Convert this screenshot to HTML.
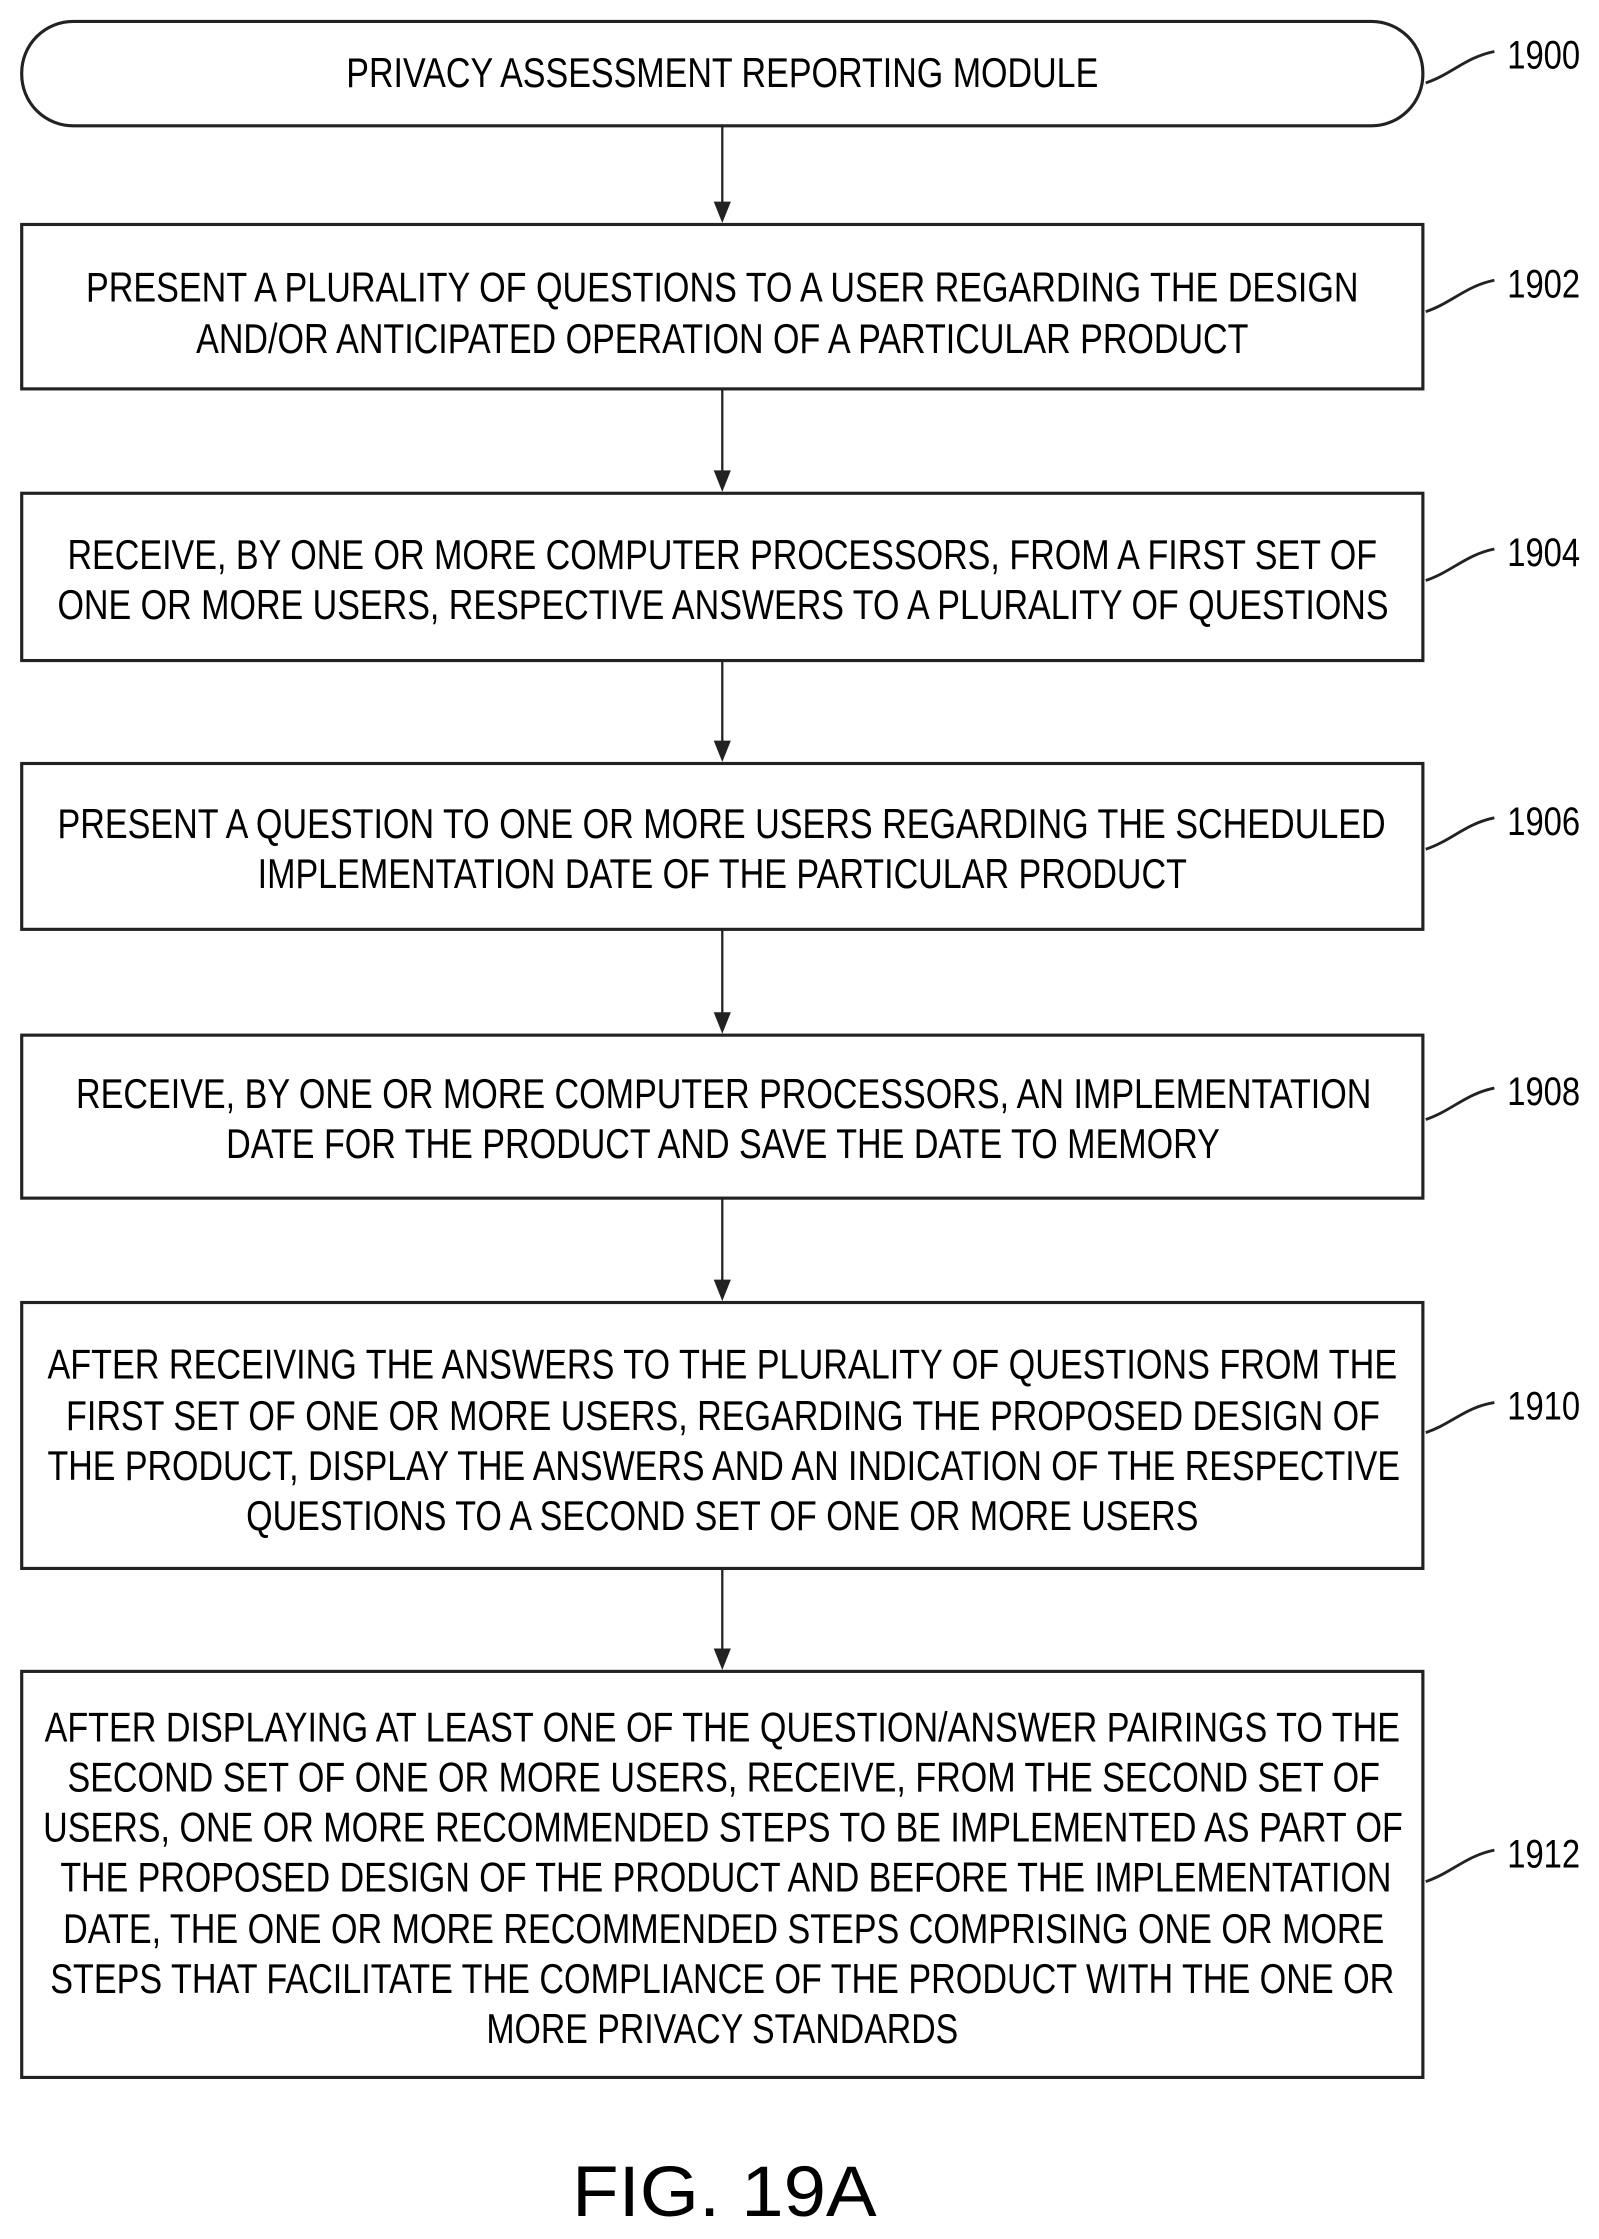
<!DOCTYPE html>
<html><head><meta charset="utf-8"><style>html,body{margin:0;padding:0;background:#fff}svg{display:block}</style></head>
<body>
<svg width="1599" height="2239" viewBox="0 0 1118 1566" xmlns="http://www.w3.org/2000/svg" font-family="Liberation Sans, sans-serif" fill="#000">
<g fill="none" stroke="#222" stroke-width="2.2">
<rect x="15" y="15" width="980" height="73" rx="36" ry="36"/>
<rect x="15" y="157" width="980" height="115"/>
<rect x="15" y="345" width="980" height="117"/>
<rect x="15" y="534" width="980" height="116"/>
<rect x="15" y="724" width="980" height="114"/>
<rect x="15" y="911" width="980" height="186"/>
<rect x="15" y="1169" width="980" height="284"/>
<g stroke-width="1.6">
<line x1="505" y1="88" x2="505" y2="145"/>
<line x1="505" y1="272" x2="505" y2="333"/>
<line x1="505" y1="462" x2="505" y2="522"/>
<line x1="505" y1="650" x2="505" y2="712"/>
<line x1="505" y1="838" x2="505" y2="899"/>
<line x1="505" y1="1097" x2="505" y2="1157"/>
</g>
<g stroke-width="2">
<path d="M997,58 C1015,52 1025,40 1045,36"/>
<path d="M997,218 C1015,212 1025,200 1045,196"/>
<path d="M997,406 C1015,400 1025,388 1045,384"/>
<path d="M997,594 C1015,588 1025,576 1045,572"/>
<path d="M997,783 C1015,777 1025,765 1045,761"/>
<path d="M997,1002 C1015,996 1025,984 1045,981"/>
<path d="M997,1316 C1015,1310 1025,1298 1045,1294"/>
</g>
</g>
<g fill="#222">
<polygon points="499,141 511,141 505,156"/>
<polygon points="499,329 511,329 505,344"/>
<polygon points="499,518 511,518 505,533"/>
<polygon points="499,708 511,708 505,723"/>
<polygon points="499,895 511,895 505,910"/>
<polygon points="499,1153 511,1153 505,1168"/>
</g>
<g font-size="28">
<text x="1054" y="48" textLength="51" lengthAdjust="spacingAndGlyphs">1900</text>
<text x="1054" y="208" textLength="51" lengthAdjust="spacingAndGlyphs">1902</text>
<text x="1054" y="396" textLength="51" lengthAdjust="spacingAndGlyphs">1904</text>
<text x="1054" y="584" textLength="51" lengthAdjust="spacingAndGlyphs">1906</text>
<text x="1054" y="773" textLength="51" lengthAdjust="spacingAndGlyphs">1908</text>
<text x="1054" y="993" textLength="51" lengthAdjust="spacingAndGlyphs">1910</text>
<text x="1054" y="1306" textLength="51" lengthAdjust="spacingAndGlyphs">1912</text>
</g>
<g font-size="29">
<text x="242" y="61" textLength="526" lengthAdjust="spacingAndGlyphs">PRIVACY ASSESSMENT REPORTING MODULE</text>
<text x="60" y="211" textLength="890" lengthAdjust="spacingAndGlyphs">PRESENT A PLURALITY OF QUESTIONS TO A USER REGARDING THE DESIGN</text>
<text x="137" y="247" textLength="736" lengthAdjust="spacingAndGlyphs">AND/OR ANTICIPATED OPERATION OF A PARTICULAR PRODUCT</text>
<text x="47" y="398" textLength="916" lengthAdjust="spacingAndGlyphs">RECEIVE, BY ONE OR MORE COMPUTER PROCESSORS, FROM A FIRST SET OF</text>
<text x="40" y="433" textLength="931" lengthAdjust="spacingAndGlyphs">ONE OR MORE USERS, RESPECTIVE ANSWERS TO A PLURALITY OF QUESTIONS</text>
<text x="40" y="586" textLength="929" lengthAdjust="spacingAndGlyphs">PRESENT A QUESTION TO ONE OR MORE USERS REGARDING THE SCHEDULED</text>
<text x="180" y="621" textLength="650" lengthAdjust="spacingAndGlyphs">IMPLEMENTATION DATE OF THE PARTICULAR PRODUCT</text>
<text x="53" y="775" textLength="906" lengthAdjust="spacingAndGlyphs">RECEIVE, BY ONE OR MORE COMPUTER PROCESSORS, AN IMPLEMENTATION</text>
<text x="158" y="810" textLength="695" lengthAdjust="spacingAndGlyphs">DATE FOR THE PRODUCT AND SAVE THE DATE TO MEMORY</text>
<text x="33" y="964" textLength="944" lengthAdjust="spacingAndGlyphs">AFTER RECEIVING THE ANSWERS TO THE PLURALITY OF QUESTIONS FROM THE</text>
<text x="46" y="1000" textLength="919" lengthAdjust="spacingAndGlyphs">FIRST SET OF ONE OR MORE USERS, REGARDING THE PROPOSED DESIGN OF</text>
<text x="33" y="1035" textLength="946" lengthAdjust="spacingAndGlyphs">THE PRODUCT, DISPLAY THE ANSWERS AND AN INDICATION OF THE RESPECTIVE</text>
<text x="172" y="1070" textLength="666" lengthAdjust="spacingAndGlyphs">QUESTIONS TO A SECOND SET OF ONE OR MORE USERS</text>
<text x="31" y="1218" textLength="948" lengthAdjust="spacingAndGlyphs">AFTER DISPLAYING AT LEAST ONE OF THE QUESTION/ANSWER PAIRINGS TO THE</text>
<text x="47" y="1253" textLength="918" lengthAdjust="spacingAndGlyphs">SECOND SET OF ONE OR MORE USERS, RECEIVE, FROM THE SECOND SET OF</text>
<text x="30" y="1288" textLength="951" lengthAdjust="spacingAndGlyphs">USERS, ONE OR MORE RECOMMENDED STEPS TO BE IMPLEMENTED AS PART OF</text>
<text x="42" y="1323" textLength="931" lengthAdjust="spacingAndGlyphs">THE PROPOSED DESIGN OF THE PRODUCT AND BEFORE THE IMPLEMENTATION</text>
<text x="44" y="1359" textLength="924" lengthAdjust="spacingAndGlyphs">DATE, THE ONE OR MORE RECOMMENDED STEPS COMPRISING ONE OR MORE</text>
<text x="35" y="1394" textLength="940" lengthAdjust="spacingAndGlyphs">STEPS THAT FACILITATE THE COMPLIANCE OF THE PRODUCT WITH THE ONE OR</text>
<text x="340" y="1429" textLength="330" lengthAdjust="spacingAndGlyphs">MORE PRIVACY STANDARDS</text>
</g>
<text x="400" y="1550" font-size="50" textLength="213" lengthAdjust="spacingAndGlyphs">FIG. 19A</text>
</svg>
</body></html>
